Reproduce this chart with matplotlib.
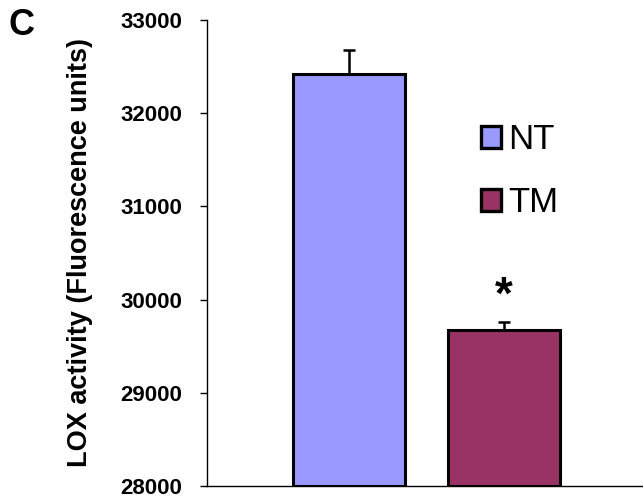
import matplotlib
matplotlib.use('Agg')
import matplotlib.pyplot as plt
from matplotlib.patches import Patch

plt.rcParams['font.family'] = ['Liberation Sans', 'DejaVu Sans']

# LOX activity per group
groups = ['NT', 'TM']
values = [32420, 29670]
errors = [260, 95]
colors = ['#9999FF', '#993366']
yticks = [28000, 29000, 30000, 31000, 32000, 33000]

fig = plt.figure(figsize=(6.43, 5.0), dpi=100)
ax = fig.add_axes([207 / 643, 14 / 500, 436 / 643, 466 / 500])

x = list(range(len(groups)))
ax.bar(x, [v - 28000 for v in values], bottom=28000, width=0.72,
       color=colors, edgecolor='black', linewidth=2.2, zorder=2)
ax.errorbar(x, values, yerr=[[0] * len(errors), errors], fmt='none',
            ecolor='black', elinewidth=1.8, capsize=4.5, capthick=1.8, zorder=3)

# significance marker over TM
ax.annotate('*', xy=(1, values[1] + errors[1]), xytext=(0, 9),
            textcoords='offset points', ha='center', va='baseline',
            fontsize=33, fontweight='bold')

ax.set_xlim(-0.916, 1.894)
ax.set_ylim(28000, 33000)
ax.set_yticks(yticks)
ax.set_yticklabels([str(t) for t in yticks], fontsize=16, fontweight='bold')
ax.tick_params(axis='y', direction='out', length=5, width=1, pad=13)
ax.set_xticks([])

for s in ['top', 'right']:
    ax.spines[s].set_visible(False)
ax.spines['left'].set_linewidth(1)
ax.spines['bottom'].set_linewidth(1)

fig.text(80 / 643, 1 - 252.5 / 500, 'LOX activity (Fluorescence units)', rotation=90,
         ha='center', va='center', fontsize=19.5, fontweight='bold')
fig.text(9 / 643, 1 - 8 / 500, 'C', ha='left', va='top', fontsize=26, fontweight='bold')

handles = [Patch(facecolor=c, edgecolor='black', linewidth=2.4) for c in colors]
ax.legend(handles, groups, loc='upper left', bbox_to_anchor=(0.628, 0.778),
          frameon=False, fontsize=25, handlelength=0.58, handleheight=0.58,
          handletextpad=0.2, labelspacing=0.85, borderaxespad=0, borderpad=0)

fig.savefig('out.png', dpi=100)
